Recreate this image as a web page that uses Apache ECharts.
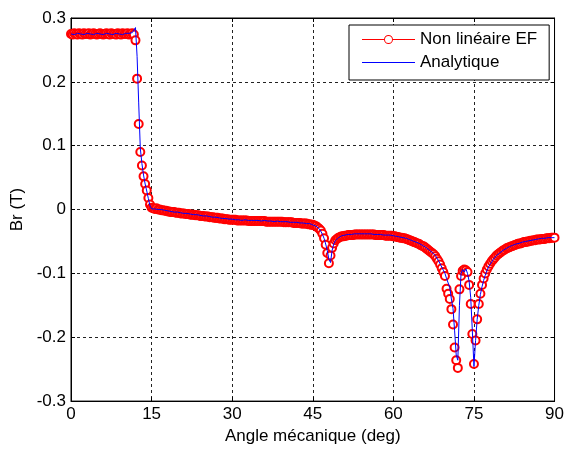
<!DOCTYPE html>
<html>
<head>
<meta charset="utf-8">
<script src="https://cdn.jsdelivr.net/npm/echarts@6/dist/echarts.min.js"></script>
<style>
html,body{margin:0;padding:0;background:#fff;}
#chart{width:567px;height:450px;}
</style>
</head>
<body>
<div id="chart"></div>
<script>
// Angle grid step (deg) and tick labels
const angleStep = 0.3;
const xTicks = [0, 15, 30, 45, 60, 75, 90];
const yTicks = [-0.3, -0.2, -0.1, 0, 0.1, 0.2, 0.3];
const seriesNames = ['Non linéaire EF', 'Analytique'];

// Non linéaire EF (red circles), one value per 0.3 deg from 0 to 90
const brFE = [
  0.275,0.274,0.276,0.275,0.274,0.276,0.275,0.274,0.276,0.275,
  0.275,0.276,0.274,0.275,0.276,0.275,0.274,0.275,0.276,0.275,
  0.274,0.275,0.276,0.275,0.274,0.276,0.275,0.275,0.274,0.276,
  0.275,0.274,0.276,0.275,0.275,0.276,0.274,0.275,0.276,0.274,
  0.265,0.205,0.134,0.090,0.069,0.052,0.040,0.030,0.018,0.008,
  0.003,0.002,0.001,0.002,0.000,0.000,-0.001,-0.001,-0.002,-0.002,
  -0.003,-0.003,-0.004,-0.004,-0.004,-0.005,-0.005,-0.005,-0.006,-0.006,
  -0.006,-0.007,-0.007,-0.007,-0.008,-0.008,-0.008,-0.009,-0.009,-0.009,
  -0.010,-0.010,-0.010,-0.011,-0.011,-0.011,-0.012,-0.012,-0.012,-0.013,
  -0.013,-0.013,-0.014,-0.014,-0.014,-0.015,-0.015,-0.015,-0.016,-0.016,
  -0.016,-0.016,-0.016,-0.017,-0.017,-0.017,-0.017,-0.017,-0.017,-0.017,
  -0.018,-0.018,-0.018,-0.018,-0.018,-0.018,-0.018,-0.018,-0.018,-0.018,
  -0.018,-0.019,-0.019,-0.019,-0.019,-0.019,-0.019,-0.019,-0.019,-0.019,
  -0.019,-0.019,-0.020,-0.020,-0.020,-0.020,-0.020,-0.020,-0.021,-0.021,
  -0.021,-0.021,-0.021,-0.022,-0.022,-0.022,-0.022,-0.023,-0.023,-0.024,
  -0.024,-0.025,-0.026,-0.028,-0.030,-0.033,-0.038,-0.045,-0.055,-0.068,
  -0.084,-0.072,-0.060,-0.053,-0.048,-0.046,-0.044,-0.043,-0.042,-0.042,
  -0.041,-0.041,-0.040,-0.040,-0.040,-0.040,-0.039,-0.039,-0.039,-0.039,
  -0.039,-0.039,-0.039,-0.039,-0.039,-0.039,-0.039,-0.039,-0.039,-0.040,
  -0.040,-0.040,-0.040,-0.040,-0.040,-0.041,-0.041,-0.041,-0.041,-0.041,
  -0.042,-0.042,-0.043,-0.043,-0.044,-0.044,-0.045,-0.045,-0.046,-0.047,
  -0.048,-0.049,-0.050,-0.051,-0.052,-0.053,-0.054,-0.056,-0.057,-0.058,
  -0.060,-0.062,-0.064,-0.066,-0.068,-0.070,-0.073,-0.077,-0.081,-0.086,
  -0.092,-0.098,-0.104,-0.124,-0.132,-0.140,-0.156,-0.180,-0.216,-0.236,
  -0.248,-0.125,-0.104,-0.096,-0.094,-0.095,-0.098,-0.118,-0.148,-0.195,
  -0.242,-0.205,-0.172,-0.148,-0.132,-0.118,-0.108,-0.100,-0.094,-0.089,
  -0.085,-0.081,-0.078,-0.075,-0.072,-0.070,-0.068,-0.066,-0.064,-0.063,
  -0.061,-0.060,-0.059,-0.058,-0.057,-0.056,-0.055,-0.054,-0.053,-0.053,
  -0.052,-0.051,-0.051,-0.050,-0.050,-0.049,-0.049,-0.048,-0.048,-0.047,
  -0.047,-0.047,-0.046,-0.046,-0.046,-0.045,-0.045,-0.045,-0.044,-0.044,
  -0.044
];

// Analytique (blue line), same angle grid
const brAna = [
  0.275,0.276,0.274,0.275,0.276,0.274,0.275,0.276,0.274,0.275,
  0.276,0.274,0.275,0.276,0.274,0.275,0.276,0.274,0.275,0.276,
  0.274,0.275,0.276,0.274,0.275,0.276,0.274,0.275,0.276,0.274,
  0.275,0.276,0.274,0.275,0.276,0.274,0.276,0.275,0.277,0.280,
  0.285,0.240,0.167,0.096,0.072,0.054,0.040,0.029,0.017,0.006,
  0.001,-0.001,0.001,-0.002,0.000,-0.002,0.000,-0.002,-0.001,-0.003,
  -0.002,-0.004,-0.003,-0.005,-0.004,-0.005,-0.004,-0.006,-0.005,-0.007,
  -0.006,-0.007,-0.006,-0.008,-0.007,-0.009,-0.008,-0.009,-0.008,-0.010,
  -0.009,-0.011,-0.010,-0.011,-0.010,-0.012,-0.011,-0.013,-0.012,-0.013,
  -0.012,-0.014,-0.013,-0.015,-0.014,-0.015,-0.014,-0.016,-0.015,-0.016,
  -0.015,-0.017,-0.016,-0.017,-0.016,-0.018,-0.017,-0.018,-0.016,-0.018,
  -0.017,-0.019,-0.017,-0.018,-0.017,-0.019,-0.017,-0.019,-0.018,-0.019,
  -0.017,-0.019,-0.018,-0.020,-0.018,-0.020,-0.019,-0.020,-0.018,-0.020,
  -0.019,-0.020,-0.019,-0.021,-0.019,-0.021,-0.020,-0.021,-0.020,-0.022,
  -0.020,-0.022,-0.021,-0.022,-0.021,-0.023,-0.022,-0.023,-0.022,-0.024,
  -0.024,-0.025,-0.026,-0.028,-0.030,-0.034,-0.039,-0.045,-0.054,-0.064,
  -0.078,-0.083,-0.064,-0.054,-0.049,-0.046,-0.044,-0.043,-0.041,-0.042,
  -0.040,-0.041,-0.039,-0.041,-0.039,-0.040,-0.038,-0.040,-0.038,-0.040,
  -0.038,-0.040,-0.038,-0.040,-0.038,-0.040,-0.038,-0.040,-0.039,-0.040,
  -0.039,-0.041,-0.039,-0.041,-0.040,-0.041,-0.040,-0.042,-0.040,-0.042,
  -0.041,-0.043,-0.042,-0.044,-0.043,-0.045,-0.044,-0.046,-0.045,-0.047,
  -0.047,-0.049,-0.049,-0.051,-0.051,-0.053,-0.053,-0.056,-0.056,-0.058,
  -0.059,-0.062,-0.063,-0.066,-0.067,-0.070,-0.072,-0.076,-0.080,-0.085,
  -0.090,-0.095,-0.100,-0.108,-0.115,-0.122,-0.140,-0.155,-0.190,-0.228,
  -0.236,-0.150,-0.100,-0.094,-0.098,-0.093,-0.100,-0.112,-0.138,-0.190,
  -0.246,-0.205,-0.172,-0.150,-0.133,-0.121,-0.111,-0.103,-0.096,-0.090,
  -0.086,-0.082,-0.078,-0.076,-0.072,-0.071,-0.068,-0.067,-0.064,-0.064,
  -0.061,-0.061,-0.058,-0.059,-0.056,-0.057,-0.054,-0.055,-0.053,-0.054,
  -0.051,-0.052,-0.050,-0.051,-0.049,-0.050,-0.048,-0.049,-0.047,-0.048,
  -0.046,-0.047,-0.045,-0.047,-0.045,-0.046,-0.044,-0.046,-0.044,-0.045,
  -0.044
];

function pairs(vals) {
  return vals.map(function (v, i) { return [Math.round(i * angleStep * 10) / 10, v]; });
}

// Legend glyphs (53 x 9 box): line with ring, and plain line
const iconLineRing = 'path://M0 4L22 4L22 5L0 5Z M31 4L53 4L53 5L31 5Z ' +
  'M22 4.5A4.5 4.5 0 1 0 31 4.5A4.5 4.5 0 1 0 22 4.5Z ' +
  'M23 4.5A3.5 3.5 0 1 1 30 4.5A3.5 3.5 0 1 1 23 4.5Z';
const iconLine = 'path://M0 0L0.01 0L0 0.01Z M0 4L53 4L53 5L0 5Z M53 9L52.99 9L53 8.99Z';

const FONT = "'Liberation Sans', Arial, sans-serif";
const chart = echarts.init(document.getElementById('chart'), null, {renderer: 'canvas'});

const axLine = {show: true, onZero: false, lineStyle: {color: '#000', width: 1}};
const axTick = {show: true, inside: true, length: 4, lineStyle: {color: '#000', width: 1}};
const axLabel = {color: '#000', fontSize: 17, fontFamily: FONT, margin: 5};
const gridDash = {show: true, lineStyle: {color: '#222', type: [3, 3], width: 1}};

chart.setOption({
  animation: false,
  backgroundColor: '#fff',
  textStyle: {fontFamily: FONT},
  grid: {left: 71, right: 10, top: 18, bottom: 47, show: true, borderColor: '#000', borderWidth: 1, backgroundColor: '#fff'},
  legend: {
    data: [
      {name: seriesNames[0], icon: iconLineRing, itemStyle: {color: '#ff0000', borderWidth: 0, opacity: 1}},
      {name: seriesNames[1], icon: iconLine, itemStyle: {color: '#0000ff', borderWidth: 0, opacity: 1}}
    ],
    symbolKeepAspect: false,
    orient: 'vertical',
    left: 349,
    top: 25,
    itemWidth: 53,
    itemHeight: 9,
    itemGap: 6,
    padding: [6, 12, 9, 13],
    backgroundColor: '#fff',
    borderColor: '#000',
    borderWidth: 1,
    borderRadius: 0,
    textStyle: {color: '#000', fontSize: 17, fontFamily: FONT, lineHeight: 17}
  },
  xAxis: [{
    type: 'value', min: xTicks[0], max: xTicks[xTicks.length - 1], interval: 15,
    name: 'Angle mécanique (deg)', nameLocation: 'middle', nameGap: 25,
    nameTextStyle: {color: '#000', fontSize: 17, fontFamily: FONT},
    axisLine: axLine, axisTick: axTick, axisLabel: axLabel,
    splitLine: gridDash
  }, {
    type: 'value', position: 'top', min: xTicks[0], max: xTicks[xTicks.length - 1], interval: 15,
    axisLine: axLine, axisTick: axTick,
    axisLabel: {show: false}, splitLine: {show: false}
  }],
  yAxis: [{
    type: 'value', min: yTicks[0], max: yTicks[yTicks.length - 1], interval: 0.1,
    name: 'Br (T)', nameLocation: 'middle', nameGap: 35, nameRotate: 90,
    nameTextStyle: {color: '#000', fontSize: 17, fontFamily: FONT},
    axisLine: axLine, axisTick: axTick,
    axisLabel: Object.assign({formatter: function (v) { return String(Math.round(v * 10) / 10); }}, axLabel),
    splitLine: gridDash
  }, {
    type: 'value', position: 'right', min: yTicks[0], max: yTicks[yTicks.length - 1], interval: 0.1,
    axisLine: axLine, axisTick: axTick,
    axisLabel: {show: false}, splitLine: {show: false}
  }],
  series: [{
    name: seriesNames[0],
    type: 'line',
    data: pairs(brFE),
    symbol: 'emptyCircle',
    symbolSize: 8,
    showSymbol: true,
    showAllSymbol: true,
    sampling: null,
    itemStyle: {color: '#ff0000', borderColor: '#ff0000', borderWidth: 1},
    lineStyle: {color: '#ff0000', width: 1, opacity: 0},
    z: 2
  }, {
    name: seriesNames[1],
    type: 'line',
    data: pairs(brAna),
    symbol: 'none',
    itemStyle: {color: '#0000ff'},
    lineStyle: {color: '#0000ff', width: 1},
    z: 3
  }]
});
</script>
</body>
</html>
